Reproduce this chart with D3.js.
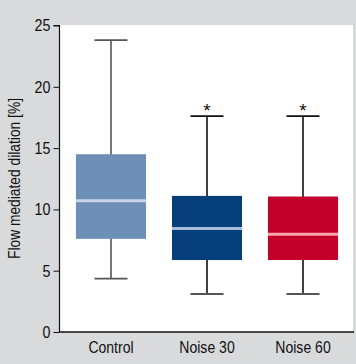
<!DOCTYPE html>
<html><head><meta charset="utf-8">
<script src="https://cdn.jsdelivr.net/npm/d3@7"></script>
<style>
html,body{margin:0;padding:0;background:#d9dadc;}
svg{display:block;}
text{font-family:"Liberation Sans Narrow","Arial Narrow","Liberation Sans",sans-serif;}
</style></head><body>
<svg id="c" width="356" height="364"></svg>
<script>
const categories = ["Control", "Noise 30", "Noise 60"];
const whiskerHigh = [23.8, 17.6, 17.6];
const q3 = [14.5, 11.1, 11.05];
const median = [10.7, 8.45, 7.98];
const q1 = [7.6, 5.87, 5.87];
const whiskerLow = [4.35, 3.1, 3.1];
const significant = [false, true, true];
const yTicks = [0, 5, 10, 15, 20, 25];
const boxColors = ["#6e8fb6", "#063f79", "#c20029"];
const medianColors = ["#c6d6ea", "#a5bde0", "#f6a8b0"];
const whiskerColors = ["#555555", "#111111", "#111111"];
const capColors = ["#555555", "#555555", "#555555"];

const svg = d3.select("#c");
const plot = {left: 60, right: 353, top: 25, bottom: 332};

function condense(sel, k) {
  sel.each(function() {
    const L = this.getComputedTextLength();
    d3.select(this).attr("textLength", L * k).attr("lengthAdjust", "spacingAndGlyphs");
  });
}

svg.append("rect").attr("x", plot.left).attr("y", plot.top)
  .attr("width", plot.right - plot.left).attr("height", plot.bottom - plot.top)
  .attr("fill", "#ffffff");

const y = d3.scaleLinear().domain([0, 25]).range([plot.bottom, plot.top + 0.5]);
const x = d3.scaleBand().domain(categories).range([63, 351]).paddingInner(0.27).paddingOuter(0.135);

const data = categories.map((c, i) => ({c, i, hi: whiskerHigh[i], q3: q3[i], med: median[i], q1: q1[i], lo: whiskerLow[i]}));

const g = svg.append("g");
const bw = x.bandwidth();
const capW = 33;

data.forEach(d => {
  const cx = x(d.c) + bw / 2;
  g.append("line").attr("x1", cx).attr("x2", cx).attr("y1", y(d.hi)).attr("y2", y(d.lo))
    .attr("stroke", whiskerColors[d.i]).attr("stroke-width", 1.6);
  g.append("line").attr("x1", cx - capW/2).attr("x2", cx + capW/2).attr("y1", y(d.hi)).attr("y2", y(d.hi))
    .attr("stroke", d.i === 0 ? "#555555" : "#111111").attr("stroke-width", 1.8);
  g.append("line").attr("x1", cx - capW/2).attr("x2", cx + capW/2).attr("y1", y(d.lo)).attr("y2", y(d.lo))
    .attr("stroke", capColors[d.i]).attr("stroke-width", 1.8);
  g.append("rect").attr("x", x(d.c)).attr("y", y(d.q3)).attr("width", bw).attr("height", y(d.q1) - y(d.q3))
    .attr("fill", boxColors[d.i]);
  g.append("line").attr("x1", x(d.c)).attr("x2", x(d.c) + bw).attr("y1", y(d.med)).attr("y2", y(d.med))
    .attr("stroke", medianColors[d.i]).attr("stroke-width", 3);
  if (significant[d.i]) {
    g.append("text").attr("x", cx).attr("y", y(d.hi) + 1).attr("text-anchor", "middle")
      .attr("font-size", 19).attr("fill", "#111").text("*");
  }
});

// y axis
const yAxis = d3.axisLeft(y).tickValues(yTicks).tickSize(6).tickPadding(3);
const ya = svg.append("g").attr("transform", `translate(${plot.left - 0.5},0)`).call(yAxis)
  .attr("font-family", null);
ya.select(".domain").attr("stroke", "#111").attr("stroke-width", 1.2).attr("d", `M-6,${y(25)}H0V${plot.bottom}`);
ya.selectAll(".tick line").attr("stroke", "#111");
ya.selectAll(".tick text").attr("font-size", 17).attr("fill", "#111").call(condense, 0.84);

// x axis
const xAxis = d3.axisBottom(x).tickSize(0).tickPadding(9);
const xa = svg.append("g").attr("transform", `translate(0,${plot.bottom})`).call(xAxis)
  .attr("font-family", null);
xa.select(".domain").attr("stroke", "#111").attr("stroke-width", 1.4).attr("d", `M${plot.left - 0.5},0H${plot.right + 1}`);
xa.selectAll(".tick text").attr("font-size", 16.5).attr("fill", "#111").call(condense, 0.85);

const yl = svg.append("text").attr("transform", `translate(20,${(plot.top + plot.bottom)/2}) rotate(-90)`)
  .attr("text-anchor", "middle").attr("font-size", 16).attr("fill", "#111")
  .text("Flow mediated dilation [%]");
yl.attr("textLength", 161).attr("lengthAdjust", "spacingAndGlyphs");
</script>
</body></html>
